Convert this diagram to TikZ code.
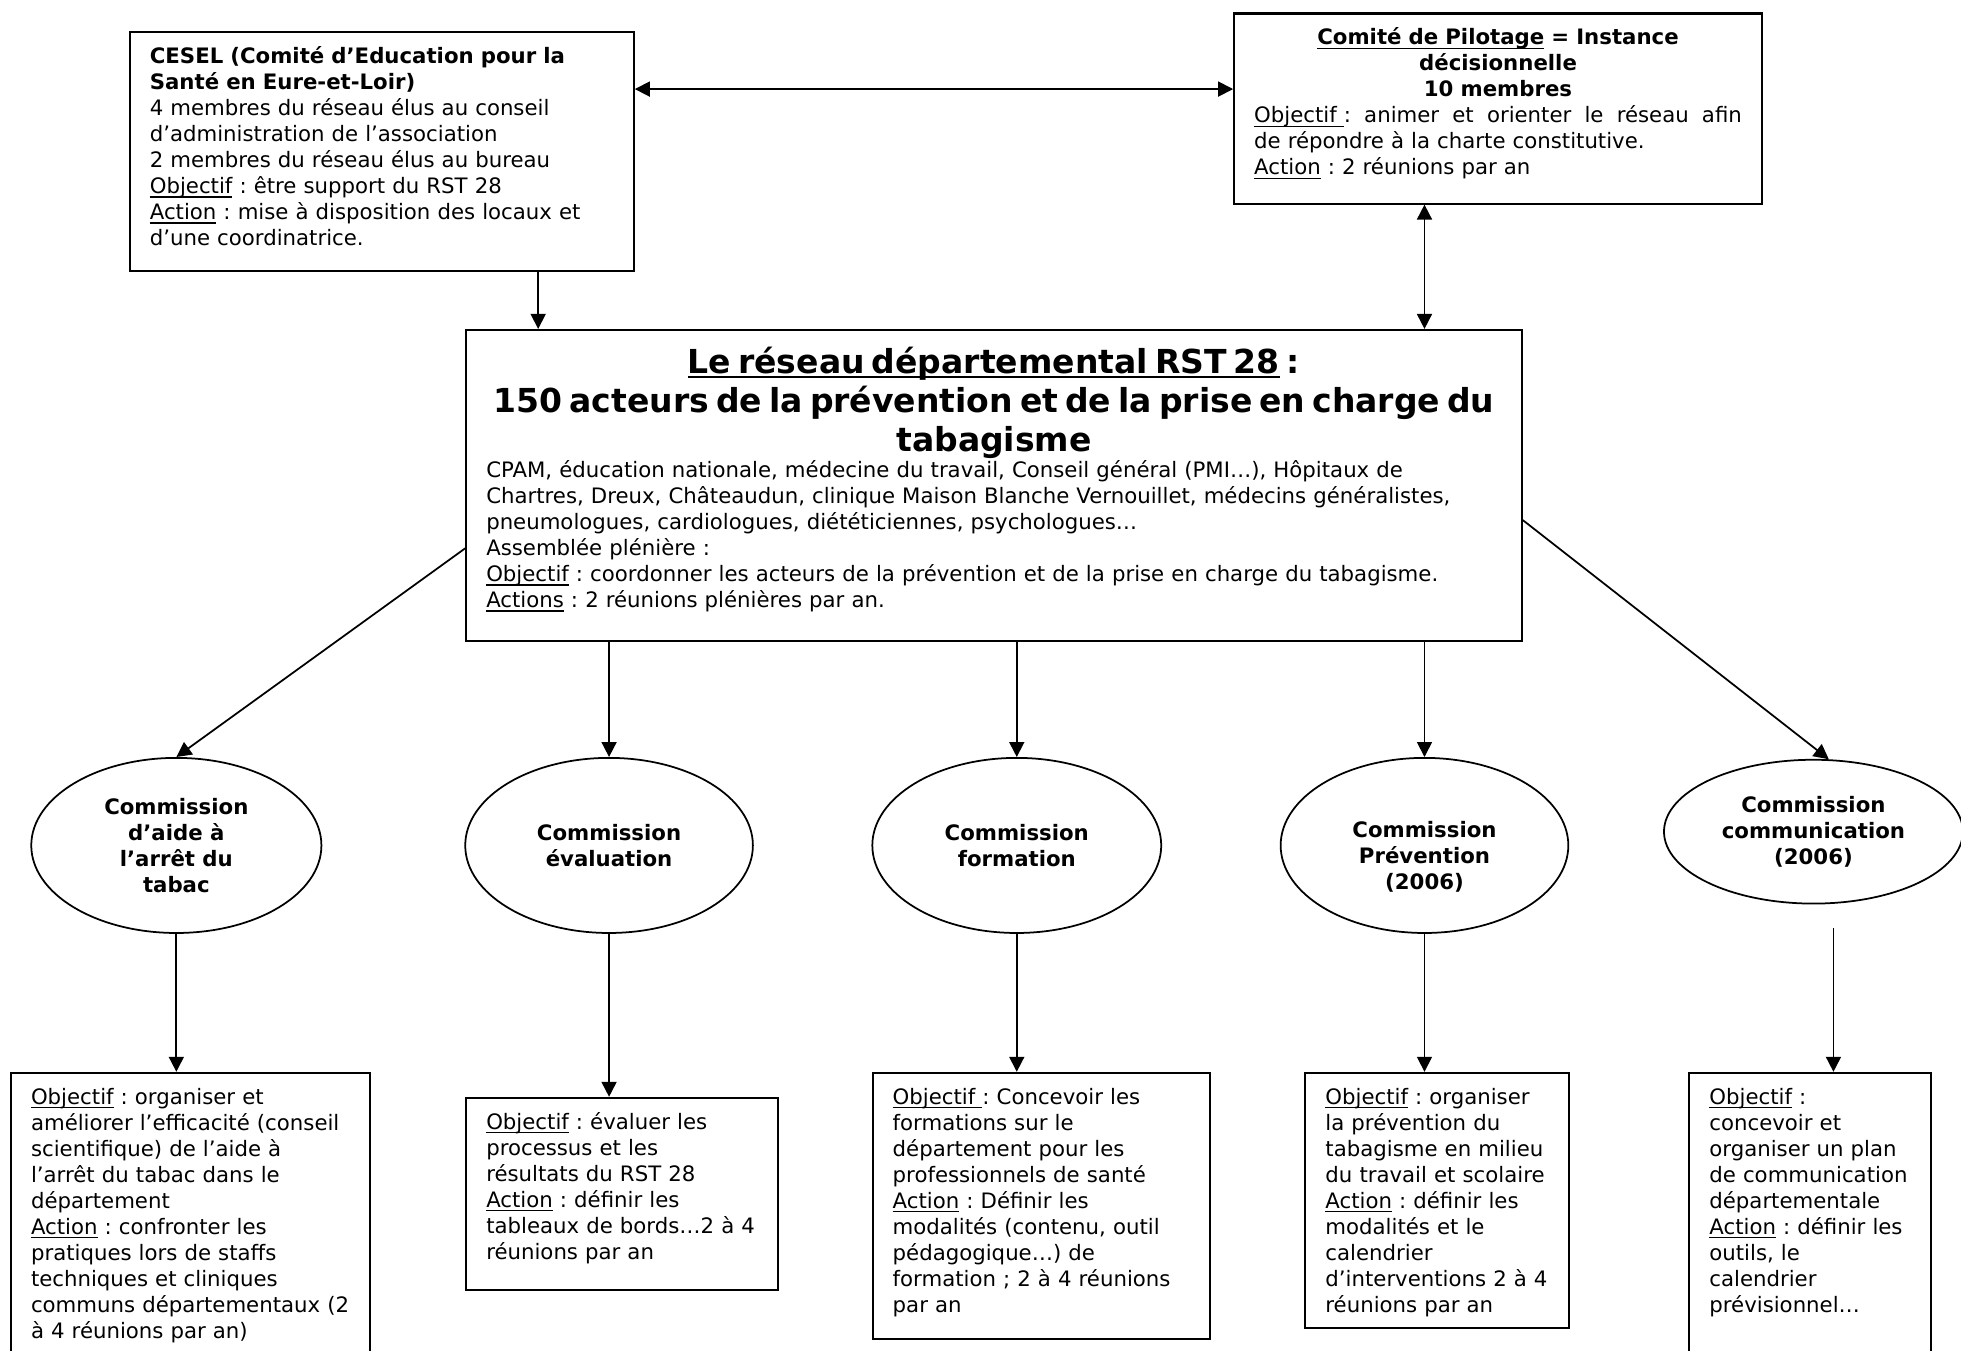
\documentclass[tikz,border=0pt]{standalone}
\usepackage{fontspec}
\setmainfont{DejaVu Sans}
\usetikzlibrary{shapes.geometric}
\usetikzlibrary{arrows.meta}
\usetikzlibrary{calc}

\frenchspacing
\newcommand{\ulin}[1]{\leavevmode{\setbox0=\hbox{#1}\rlap{\vrule height -1.1pt depth 1.7pt width \wd0}\box0}}

\tikzset{
  cadre/.style={draw, line width=0.8pt, anchor=north west, align=left,
    inner xsep=8pt, inner ysep=4pt, text height=8.5pt,
    font=\fontsize{8.5}{10.4}\selectfont},
  bulle/.style={draw, ellipse, line width=0.7pt, inner sep=0pt, align=center,
    font=\bfseries\fontsize{8.5}{10.35}\selectfont},
  fleche/.style={-{Triangle[length=6pt,width=6pt]}, line width=0.7pt},
  flechedouble/.style={{Triangle[length=6pt,width=6pt]}-{Triangle[length=6pt,width=6pt]}, line width=0.7pt}
}

\begin{document}
\begin{tikzpicture}[x=0.5pt,y=-0.5pt]
        %% page
        \clip (0,0) rectangle (1568,1080);

        %% top boxes
        \node[cadre, text width=185.5pt, text depth=79pt] (cesel) at (103,25) {%
          \textbf{CESEL (Comité d’Education pour la}\\
          \textbf{Santé en Eure-et-Loir)}\\
          4 membres du réseau élus au conseil\\
          d’administration de l’association\\
          2 membres du réseau élus au bureau\\
          \ulin{Objectif} : être support du RST 28\\
          \ulin{Action} : mise à disposition des locaux et\\
          d’une coordinatrice.};
        \node[cadre, text width=195pt, text depth=59.5pt] (copil) at (986,10) {%
          \makebox[\hsize]{\textbf{\ulin{Comité de Pilotage} = Instance}}\\
          \makebox[\hsize]{\textbf{décisionnelle}}\\
          \makebox[\hsize]{\textbf{10 membres}}\\
          \makebox[\hsize][s]{\ulin{Objectif\ }:\hfill animer\hfill et\hfill orienter\hfill le\hfill réseau\hfill afin}\\
          de répondre à la charte constitutive.\\
          \ulin{Action} : 2 réunions par an};

        %% central box
        \node[cadre, inner ysep=6pt, text height=11.5pt, text width=406pt, text depth=101pt] (rst) at (372,263) {%
          {\centering\bfseries\fontsize{13.2}{15.5}\selectfont
          \ulin{Le réseau départemental RST 28} :\\
          150 acteurs de la prévention et de la prise en charge du\\
          tabagisme\par}
          CPAM, éducation nationale, médecine du travail, Conseil général (PMI…), Hôpitaux de\\
          Chartres, Dreux, Châteaudun, clinique Maison Blanche Vernouillet, médecins généralistes,\\
          pneumologues, cardiologues, diététiciennes, psychologues…\\
          Assemblée plénière :\\
          \ulin{Objectif} : coordonner les acteurs de la prévention et de la prise en charge du tabagisme.\\
          \ulin{Actions} : 2 réunions plénières par an.};

        %% commissions
        \node[bulle, minimum width=116pt, minimum height=70pt] (aide) at (141,676)
          {Commission\\ d’aide à\\ l’arrêt du\\ tabac};
        \node[bulle, minimum width=115pt, minimum height=70pt] (eval) at (487,676)
          {Commission\\ évaluation};
        \node[bulle, minimum width=115.5pt, minimum height=70pt] (form) at (813,676)
          {Commission\\ formation};
        \node[bulle, minimum width=115pt, minimum height=70pt, text height=37pt, text depth=2pt] (prev) at (1139,676)
          {Commission\\ Prévention\\ (2006)};
        \node[bulle, minimum width=119.5pt, minimum height=57.5pt] (comm) at (1450,665)
          {Commission\\ communication\\ (2006)};

        %% bottom boxes
        \node[cadre, text width=127.5pt, text depth=102.5pt] (baide) at (8,857) {%
          \ulin{Objectif} : organiser et\\
          améliorer l’efficacité (conseil\\
          scientifique) de l’aide à\\
          l’arrêt du tabac dans le\\
          département\\
          \ulin{Action} : confronter les\\
          pratiques lors de staffs\\
          techniques et cliniques\\
          communs départementaux (2\\
          à 4 réunions par an)};
        \node[cadre, text width=108.5pt, text depth=60.5pt] (beval) at (372,877) {%
          \ulin{Objectif} : évaluer les\\
          processus et les\\
          résultats du RST 28\\
          \ulin{Action} : définir les\\
          tableaux de bords…2 à 4\\
          réunions par an};
        \node[cadre, text width=119pt, text depth=90pt] (bform) at (697,857) {%
          \ulin{Objectif\ }: Concevoir les\\
          formations sur le\\
          département pour les\\
          professionnels de santé\\
          \ulin{Action} : Définir les\\
          modalités (contenu, outil\\
          pédagogique…) de\\
          formation ; 2 à 4 réunions\\
          par an};
        \node[cadre, text width=89.5pt, text depth=85.5pt] (bprev) at (1043,857) {%
          \ulin{Objectif} : organiser\\
          la prévention du\\
          tabagisme en milieu\\
          du travail et scolaire\\
          \ulin{Action} : définir les\\
          modalités et le\\
          calendrier\\
          d’interventions 2 à 4\\
          réunions par an};
        \node[cadre, text width=80.5pt, text depth=102.5pt] (bcomm) at (1350,857) {%
          \ulin{Objectif} :\\
          concevoir et\\
          organiser un plan\\
          de communication\\
          départementale\\
          \ulin{Action} : définir les\\
          outils, le\\
          calendrier\\
          prévisionnel…};

        %% arrows between the top boxes
        \coordinate (cesel-out) at ($(cesel.north east)!.24!(cesel.south east)$);
        \draw[flechedouble] (cesel-out) -- (cesel-out -| copil.west);
        \coordinate (cesel-down) at ($(cesel.south west)!.809!(cesel.south east)$);
        \draw[fleche] (cesel-down) -- (cesel-down |- rst.north);
        \draw[flechedouble] (copil.south -| prev) -- (rst.north -| prev);

        %% arrows to the commissions
        \draw[fleche] ($(rst.north west)!.7!(rst.south west)$) -- (aide.north);
        \draw[fleche] (rst.south -| eval) -- (eval.north);
        \draw[fleche] (rst.south -| form) -- (form.north);
        \draw[fleche] (rst.south -| prev) -- (prev.north);
        \draw[fleche] ($(rst.north east)!.61!(rst.south east)$) -- (comm.78);

        %% arrows to the bottom boxes
        \draw[fleche] (aide.south) -- (aide.south |- baide.north);
        \draw[fleche] (eval.south) -- (eval.south |- beval.north);
        \draw[fleche] (form.south) -- (form.south |- bform.north);
        \draw[fleche] (prev.south) -- (prev.south |- bprev.north);
        \coordinate (comm-out) at (1466,742);
        \draw[fleche] (comm-out) -- (comm-out |- bcomm.north);
\end{tikzpicture}
\end{document}
